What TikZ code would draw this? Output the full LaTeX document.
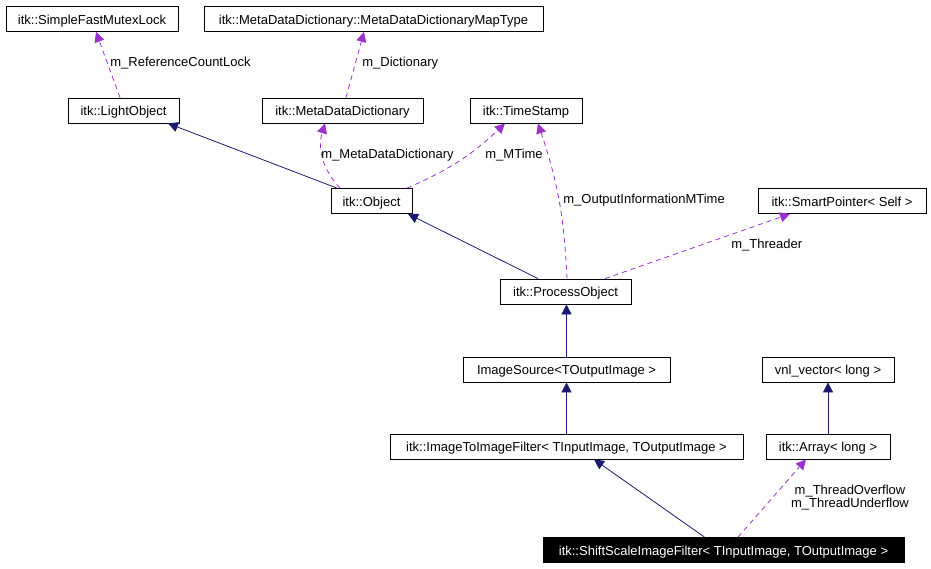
\documentclass[tikz,border=0pt]{standalone}
\usepackage{fontspec}
\setmainfont{Liberation Sans}
\usetikzlibrary{arrows.meta}
\definecolor{inhblue}{HTML}{191970}
\definecolor{mbrpurple}{HTML}{9A32CD}

\begin{document}
\begin{tikzpicture}[x=1pt,y=-1pt,line width=0.8pt,font=\fontsize{13}{13}\selectfont,
  cls/.style={draw=black,fill=white,minimum height=25pt,inner sep=0pt,text height=10pt,text depth=0pt},
  inherit/.style={-{Triangle[length=10pt,width=10pt]},inhblue},
  member/.style={-{Triangle[length=10pt,width=10pt]},mbrpurple,dash pattern=on 5pt off 4pt},
  lbl/.style={anchor=west,inner sep=0pt}]
  \useasboundingbox (0,0) rectangle (931,568);
  % classes
  \node[cls,minimum width=172pt] (mutex) at (92,19) {itk::SimpleFastMutexLock};
  \node[cls,minimum width=339pt] (maptype) at (373.5,19) {itk::MetaDataDictionary::MetaDataDictionaryMapType};
  \node[cls,minimum width=111pt] (light) at (123.5,110.5) {itk::LightObject};
  \node[cls,minimum width=161pt] (mdd) at (342.5,110.5) {itk::MetaDataDictionary};
  \node[cls,minimum width=112pt] (stamp) at (526,110.5) {itk::TimeStamp};
  \node[cls,minimum width=81pt] (object) at (371.5,201) {itk::Object};
  \node[cls,minimum width=168pt] (smart) at (842,201) {itk::SmartPointer< Self >};
  \node[cls,minimum width=131pt] (process) at (565.5,291.5) {itk::ProcessObject};
  \node[cls,minimum width=207pt] (source) at (566.5,369.5) {ImageSource<TOutputImage >};
  \node[cls,minimum width=132pt] (vnl) at (828,369.5) {vnl\_vector< long >};
  \node[cls,minimum width=353pt] (i2i) at (566.5,446.5) {itk::ImageToImageFilter< TInputImage, TOutputImage >};
  \node[cls,minimum width=124pt] (array) at (828,446.5) {itk::Array< long >};
  \node[cls,minimum width=361pt,fill=black,text=white] (shift) at (723.5,550) {itk::ShiftScaleImageFilter< TInputImage, TOutputImage >};
  % inheritance
  \draw[inherit] ([xshift=-34.5pt]object.north) -- ([xshift=44.5pt]light.south);
  \draw[inherit] ([xshift=-27.5pt]process.north) -- ([xshift=36.5pt]object.south);
  \draw[inherit] (source.north) -- (source.north |- process.south);
  \draw[inherit] (i2i.north) -- (source.south);
  \draw[inherit] (array.north) -- (vnl.south);
  \draw[inherit] ([xshift=-19pt]shift.north) -- ([xshift=27.5pt]i2i.south);
  % members
  \draw[member] ([xshift=-3.5pt]light.north) -- ([xshift=4pt]mutex.south);
  \draw[member] ([xshift=3.5pt]mdd.north) -- ([xshift=-9.5pt]maptype.south);
  \draw[member] ([xshift=-31.5pt]object.north) to[bend left=30] ([xshift=-17.5pt]mdd.south);
  \draw[member] ([xshift=35.5pt]object.north) to[bend right=10] ([xshift=-21pt]stamp.south);
  \draw[member] ([xshift=1.5pt]process.north) to[bend right=8] ([xshift=12pt]stamp.south);
  \draw[member] ([xshift=39.5pt]process.north) -- ([xshift=-52pt]smart.south);
  \draw[member] ([xshift=14.5pt]shift.north) -- ([xshift=-22pt]array.south);
  % labels
  \node[lbl] (lreflock) at (110,63) {m\_ReferenceCountLock};
  \node[lbl] (ldict) at (362,63) {m\_Dictionary};
  \node[lbl] (lmdd) at (321,155) {m\_MetaDataDictionary};
  \node[lbl] (lmtime) at (485,155) {m\_MTime};
  \node[lbl] (loutinfo) at (563,200) {m\_OutputInformationMTime};
  \node[lbl] (lthreader) at (731,245) {m\_Threader};
  \node[align=center,inner sep=0pt] (lflow) at (850,497.5) {m\_ThreadOverflow\\m\_ThreadUnderflow};
\end{tikzpicture}
\end{document}
